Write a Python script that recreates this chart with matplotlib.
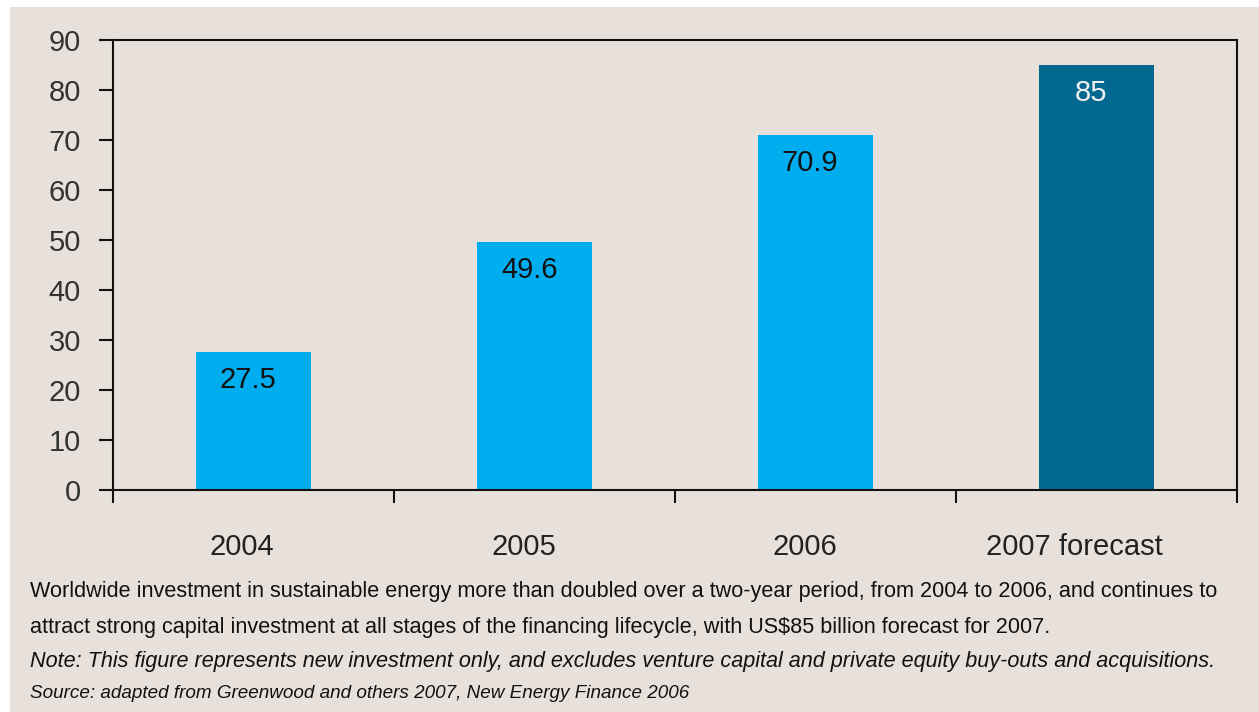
import matplotlib
matplotlib.use("Agg")
import matplotlib.pyplot as plt
from matplotlib.patches import Rectangle
from matplotlib import transforms

categories = ["2004", "2005", "2006", "2007 forecast"]
investment = [27.5, 49.6, 70.9, 85]
value_labels = ["27.5", "49.6", "70.9", "85"]
y_ticks = [0, 10, 20, 30, 40, 50, 60, 70, 80, 90]
caption_lines = [
    "Worldwide investment in sustainable energy more than doubled over a two-year period, from 2004 to 2006, and continues to",
    "attract strong capital investment at all stages of the financing lifecycle, with US$85 billion forecast for 2007.",
]
note_lines = [
    "Note: This figure represents new investment only, and excludes venture capital and private equity buy-outs and acquisitions.",
    "Source: adapted from Greenwood and others 2007, New Energy Finance 2006",
]

BG = "#E8E1DB"
LIGHT = "#00ADEE"
DARK = "#02688F"

W, H = 1259, 712
fig = plt.figure(figsize=(W / 100, H / 100), dpi=100, facecolor="white")
fig.patches.append(Rectangle((10 / W, 0), 1, 1 - 7 / H, transform=fig.transFigure,
                             facecolor=BG, edgecolor="none", zorder=-10))

ax = fig.add_axes([112.7 / W, 1 - 490 / H, (1236.7 - 112.7) / W, 450 / H])
ax.set_facecolor(BG)

x = list(range(len(categories)))
colors = [LIGHT] * (len(categories) - 1) + [DARK]
ax.bar(x, investment, width=0.41, color=colors, edgecolor="none", zorder=2)

ax.set_xlim(-0.5, len(categories) - 0.5)
ax.set_ylim(0, 90)

for s in ax.spines.values():
    s.set_linewidth(1.5)
    s.set_color("#111111")

font = "Liberation Sans"
ax.set_yticks(y_ticks)
ax.set_yticklabels([str(v) for v in y_ticks], fontsize=21, color="#333333", family=font)
ax.tick_params(axis="y", direction="out", length=10, width=1.5, pad=13, color="#111111")

# boundaries between categories carry the x tick marks
ax.set_xticks([i - 0.5 for i in range(len(categories) + 1)], minor=True)
ax.tick_params(axis="x", which="minor", direction="out", length=9, width=1.5, color="#111111")
ax.set_xticks(x)
ax.set_xticklabels(categories, fontsize=21, color="#222222", family=font)
ax.tick_params(axis="x", which="major", length=0, pad=31)
offsets = [-11, -10, -10, -22]
for lbl, dx in zip(ax.get_xticklabels(), offsets):
    lbl.set_transform(lbl.get_transform() +
                      transforms.ScaledTranslation(dx / 100, 0, fig.dpi_scale_trans))

label_shift = transforms.ScaledTranslation(-5 / 100, -28 / 100, fig.dpi_scale_trans)
for xi, v, txt, c in zip(x, investment, value_labels, colors):
    ax.text(xi, v, txt, ha="center", va="center", fontsize=21, family=font,
            color="#F0F0F0" if c == DARK else "#111111",
            transform=ax.transData + label_shift, zorder=3)

ys = [591, 628, 662, 693]
sizes = [15.6, 15.6, 15.6, 13.6]
for i, line in enumerate(caption_lines + note_lines):
    fig.text(30 / W, 1 - ys[i] / H, line, ha="left", va="center", fontsize=sizes[i],
             family=font, style="normal" if i < 2 else "italic", color="#111111")

fig.savefig("out.png", dpi=100, facecolor=fig.get_facecolor())
